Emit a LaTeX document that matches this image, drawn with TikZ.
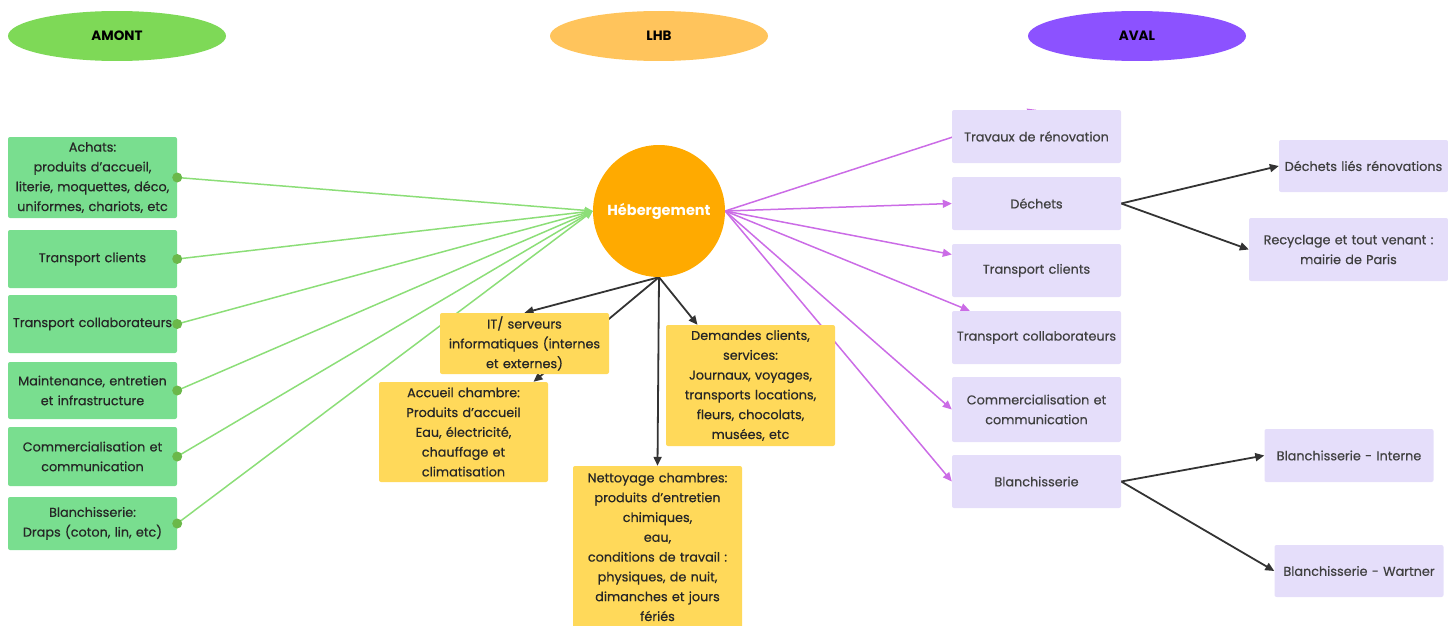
\documentclass[tikz,border=0pt]{standalone}
\usepackage{fontspec}
\setmainfont{Poppins}
\newfontfamily\boxfont{Poppins}[FakeBold=0.5]
\usetikzlibrary{arrows.meta, backgrounds, shapes.geometric}

\definecolor{amontgreen}{RGB}{126,217,87}
\definecolor{amontbox}{RGB}{121,222,143}
\definecolor{amontline}{RGB}{140,222,120}
\definecolor{lhborange}{RGB}{255,196,92}
\definecolor{hebcol}{RGB}{255,170,0}
\definecolor{lhbbox}{RGB}{255,217,90}
\definecolor{avalpurple}{RGB}{140,82,255}
\definecolor{avalbox}{RGB}{229,222,250}
\definecolor{avalline}{RGB}{203,108,230}

\begin{document}
\begin{tikzpicture}[x=1pt, y=-1pt]

\tikzset{head/.style = {ellipse, minimum width=218pt, minimum height=50pt, font=\fontsize{13.5}{15}\selectfont\bfseries}}
\tikzset{box/.style = {rectangle, rounded corners=2pt, align=center, text width=167pt, inner sep=1pt, minimum width=169pt, font=\boxfont\fontsize{12.8}{19.8}\selectfont, text=black!85}}
\tikzset{amont/.style = {box, fill=amontbox}}
\tikzset{lhb/.style = {box, fill=lhbbox}}
\tikzset{aval/.style = {box, fill=avalbox, text=black!75}}
\tikzset{gedge/.style = {draw=amontline, line width=1.5pt, -{Triangle[length=8pt,width=7pt]}}}
\tikzset{pedge/.style = {draw=avalline, line width=1.5pt, -{Triangle[length=9pt,width=8pt]}}}
\tikzset{kedge/.style = {draw=black!80, line width=1.8pt, -{Triangle[length=9pt,width=8pt]}}}

\useasboundingbox (0,0) rectangle (1448,626);

%titres
\node[head, fill=amontgreen] (amont) at (117,36) {AMONT};
\node[head, fill=lhborange] (lhb) at (659,36) {LHB};
\node[head, fill=avalpurple] (aval) at (1137,36) {AVAL};

%centre
\node[circle, fill=hebcol, minimum size=132pt, inner sep=0pt, text=white, font=\fontsize{14.5}{16}\selectfont\bfseries] (heb) at (659,211) {Hébergement};

%amont
\node[amont, minimum height=81pt] (a1) at (92.5,177.5) {Achats:\\produits d’accueil,\\literie, moquettes, déco,\\uniformes, chariots, etc};
\node[amont, minimum height=58pt] (a2) at (92.5,259) {Transport clients};
\node[amont, minimum height=58pt] (a3) at (92.5,324) {Transport collaborateurs};
\node[amont, minimum height=57pt] (a4) at (92.5,390.5) {Maintenance, entretien\\et infrastructure};
\node[amont, minimum height=59pt] (a5) at (92.5,456.5) {Commercialisation et\\communication};
\node[amont, minimum height=53pt] (a6) at (92.5,523.5) {Blanchisserie:\\Draps (coton, lin, etc)};

%lhb
\node[lhb, minimum height=61pt] (it) at (524.5,343.5) {IT/ serveurs\\informatiques (internes\\et externes)};
\node[lhb, minimum height=100pt] (acc) at (463.5,432) {Accueil chambre:\\Produits d’accueil\\Eau, électricité,\\chauffage et\\climatisation};
\node[lhb, minimum height=121pt] (dem) at (750.5,385.5) {Demandes clients,\\services:\\Journaux, voyages,\\transports locations,\\fleurs, chocolats,\\musées, etc};
\node[lhb, minimum height=162pt] (net) at (657.5,547) {Nettoyage chambres:\\produits d’entretien\\chimiques,\\eau,\\conditions de travail :\\physiques, de nuit,\\dimanches et jours\\fériés};

%aval
\node[aval, minimum height=53pt] (v1) at (1036.5,136.5) {Travaux de rénovation};
\node[aval, minimum height=53pt] (v2) at (1036.5,203.5) {Déchets};
\node[aval, minimum height=53pt] (v3) at (1036.5,270.5) {Transport clients};
\node[aval, minimum height=53pt] (v4) at (1036.5,337.5) {Transport collaborateurs};
\node[aval, minimum height=65pt] (v5) at (1036.5,409.5) {Commercialisation et\\communication};
\node[aval, minimum height=53pt] (v6) at (1036.5,481.5) {Blanchisserie};

\node[aval, minimum height=52pt] (r1) at (1363.5,166) {Déchets liés rénovations};
\node[aval, text width=197pt, minimum width=199pt, minimum height=63pt] (r2) at (1348.5,249.5) {Recyclage et tout venant :\\mairie de Paris};
\node[aval, minimum height=53pt] (r3) at (1349,455.5) {Blanchisserie - Interne};
\node[aval, minimum height=52pt] (r4) at (1359,571) {Blanchisserie - Wartner};

%liens
\begin{scope}[on background layer]
\foreach \a in {a1,a2,a3,a4,a5,a6}
  \draw[gedge] (\a.east) -- (heb.west);

\draw[pedge] (heb.east) -- (v1.north);
\draw[pedge] (heb.east) -- (v2.west);
\draw[pedge] (heb.east) -- ([yshift=16pt]v3.west);
\draw[pedge] (heb.east) -- ([xshift=18pt]v4.north west);
\draw[pedge] (heb.east) -- (v5.west);
\draw[pedge] (heb.east) -- (v6.west);

\draw[kedge] (heb.south) -- (it.north);
\draw[kedge] (heb.south) -- ([xshift=70pt]acc.north);
\draw[kedge] (heb.south) -- (net.north);
\draw[kedge] (heb.south) -- ([xshift=-53pt]dem.north);

\draw[kedge] (v2.east) -- (r1.west);
\draw[kedge] (v2.east) -- (r2.west);
\draw[kedge] (v6.east) -- (r3.west);
\draw[kedge] (v6.east) -- (r4.west);
\end{scope}

%points
\foreach \a in {a1,a2,a3,a4,a5,a6}
  \fill[amontgreen!85!black] (\a.east) circle (5pt);

\end{tikzpicture}
\end{document}
